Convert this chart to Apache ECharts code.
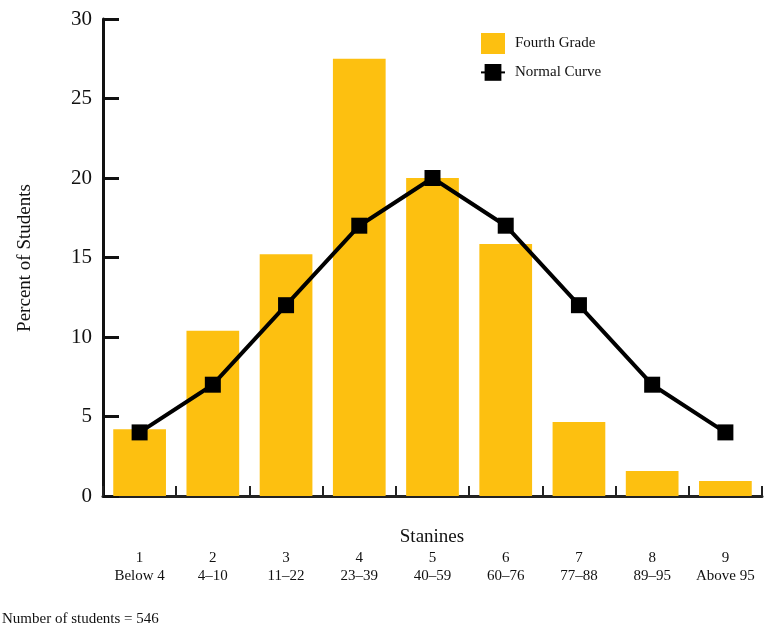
<!DOCTYPE html>
<html><head><meta charset="utf-8">
<script src="https://cdn.jsdelivr.net/npm/echarts@6/dist/echarts.min.js"></script>
<style>html,body{margin:0;padding:0;background:#fff}#c{width:769px;height:634px}</style>
</head><body><div id="c"></div>
<script>
const stanines = ['1','2','3','4','5','6','7','8','9'];
const ranges = ['Below 4','4–10','11–22','23–39','40–59','60–76','77–88','89–95','Above 95'];
const fourthGrade = [4.2, 10.4, 15.2, 27.5, 20.0, 15.85, 4.65, 1.57, 0.94];
const normalCurve = [4, 7, 12, 17, 20, 17, 12, 7, 4];
const yTicks = [0, 5, 10, 15, 20, 25, 30];

const categories = stanines.map((s, i) => s + '\n' + ranges[i]);
const FONT = '"Liberation Serif", "DejaVu Serif", serif';
const chart = echarts.init(document.getElementById('c'));
chart.setOption({
  animation: false,
  textStyle: { fontFamily: FONT, color: '#111' },
  grid: { left: 103, right: 7, top: 19, bottom: 138 },
  legend: {
    orient: 'vertical', left: 475, top: 28, itemGap: 10,
    itemWidth: 24, itemHeight: 21,
    textStyle: { fontFamily: FONT, fontSize: 15, color: '#111', padding: [0, 0, 0, 5] },
    data: [
      { name: 'Fourth Grade', icon: 'rect' },
      { name: 'Normal Curve' }
    ]
  },
  xAxis: {
    type: 'category', data: categories,
    axisLine: { lineStyle: { color: '#222', width: 3 } },
    axisTick: { show: true, inside: true, length: 10, alignWithLabel: false, lineStyle: { color: '#222', width: 2 } },
    axisLabel: { margin: 53, fontFamily: FONT, fontSize: 15, color: '#111', lineHeight: 18, interval: 0 }
  },
  yAxis: {
    type: 'value', min: 0, max: 30, interval: 5,
    splitLine: { show: false },
    axisLine: { show: true, lineStyle: { color: '#111', width: 3 } },
    axisTick: { show: true, inside: true, length: 16, lineStyle: { color: '#111', width: 3 } },
    axisLabel: { margin: 11, fontFamily: FONT, fontSize: 21, color: '#111',
      formatter: v => yTicks.includes(v) ? String(v) : '' }
  },
  series: [
    {
      name: 'Fourth Grade', type: 'bar', data: fourthGrade,
      barCategoryGap: '28%',
      itemStyle: { color: '#FDC010' }
    },
    {
      name: 'Normal Curve', type: 'line', data: normalCurve,
      symbol: 'rect', symbolSize: 16,
      lineStyle: { color: '#000', width: 4 },
      itemStyle: { color: '#000' }
    }
  ],
  graphic: [
    { type: 'text', x: 432, y: 537,
      style: { text: 'Stanines', fontFamily: FONT, fontSize: 19, fill: '#111', align: 'center', verticalAlign: 'middle' } },
    { type: 'text', x: 25, y: 258, rotation: Math.PI / 2,
      style: { text: 'Percent of Students', fontFamily: FONT, fontSize: 19, fill: '#111', align: 'center', verticalAlign: 'middle' } },
    { type: 'text', left: 2, top: 612,
      style: { text: 'Number of students = 546', fontFamily: FONT, fontSize: 15, fill: '#111' } }
  ]
});
</script></body></html>
